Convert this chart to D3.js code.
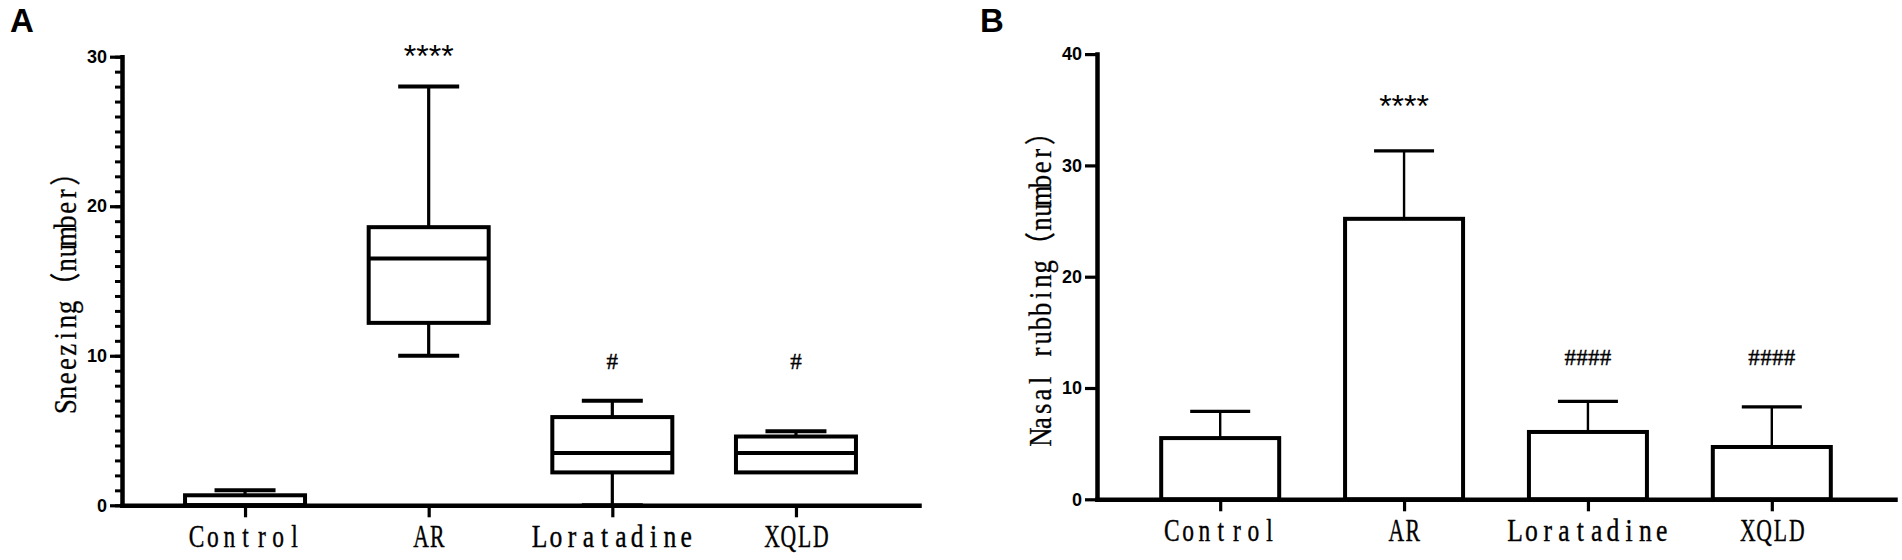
<!DOCTYPE html>
<html>
<head>
<meta charset="utf-8">
<script src="https://cdn.jsdelivr.net/npm/d3@7"></script>
<style>
  body { margin: 0; background: #fff; }
  svg { display: block; }
</style>
</head>
<body>
<svg id="chart" width="1902" height="560"></svg>
<script>
/*** Data ***/
var groups = ["Control", "AR", "Loratadine", "XQLD"];

// Panel A: sneezing, box & whisker (min..max)
var sneezeMin    = [0, 10, 0, 2.2];
var sneezeQ1     = [0, 12.2, 2.2, 2.2];
var sneezeMedian = [0, 16.5, 3.5, 3.5];
var sneezeQ3     = [0.67, 18.6, 5.9, 4.6];
var sneezeMax    = [1, 28, 7, 4.95];
var sneezeMarks  = ["", "****", "#", "#"];
var sneezeMarkY  = [null, 30.5, 9.6, 9.6];
var sneezeTicks  = [0, 10, 20, 30];

// Panel B: nasal rubbing, mean + SD
var rubMean  = [5.5, 25.2, 6.05, 4.7];
var rubSD    = [2.4, 6.1, 2.75, 3.6];
var rubMarks = ["", "****", "####", "####"];
var rubMarkY = [null, 36, 12.7, 12.7];
var rubTicks = [0, 10, 20, 30, 40];

/*** Helpers ***/
var svg = d3.select("#chart");
var sans = "'Liberation Sans', Arial, sans-serif";
var serif = "'Liberation Serif', 'Noto Sans CJK SC', serif";

// lay the characters out on a fixed grid (half-width = 1 cell, full-width = 2),
// so a serif face reads like the monospaced CJK-font latin of the original
function monoText(text, str, cell, sx) {
  var chars = Array.from(str);
  var w = chars.map(c => c.charCodeAt(0) > 0x2000 ? 2 : 1);
  var pos = -d3.sum(w) / 2;
  text.text(null).attr("text-anchor", "middle");
  chars.forEach((c, k) => {
    text.append("tspan").attr("x", (pos + w[k] / 2) * cell / sx).text(c);
    pos += w[k];
  });
}

// same, but squeeze the glyphs so the widest one still fits its cell
function fitMono(text, str, cell, maxSx) {
  monoText(text, str, cell, 1);
  var widest = d3.max(text.selectAll("tspan").nodes(), n => n.getComputedTextLength());
  var sx = Math.min(maxSx, 0.96 * cell / widest);
  text.attr("transform", "scale(" + sx + ",1)");
  monoText(text, str, cell, sx);
}

function drawAxes(g, x, y, opt) {
  var x0 = opt.xRange[0];

  // minor ticks (panel A only)
  if (opt.minor) {
    g.append("g")
      .attr("transform", "translate(" + x0 + ",0)")
      .call(d3.axisLeft(y).tickValues(d3.range(0, opt.yMax + 1)).tickSize(7).tickSizeOuter(0).tickFormat(""))
      .call(s => s.select(".domain").remove())
      .selectAll("line").attr("stroke", "#000").attr("stroke-width", 3);
  }

  var ya = g.append("g")
    .attr("transform", "translate(" + x0 + ",0)")
    .call(d3.axisLeft(y).tickValues(opt.ticks).tickSize(12).tickPadding(3).tickSizeOuter(0));
  ya.select(".domain").attr("stroke", "#000").attr("stroke-width", 4.5).attr("stroke-linecap", "square");
  ya.selectAll(".tick line").attr("stroke", "#000").attr("stroke-width", 3.2);
  ya.selectAll(".tick text")
    .attr("fill", "#000")
    .attr("font-family", sans)
    .attr("font-weight", "bold")
    .attr("font-size", 18);

  var xa = g.append("g")
    .attr("transform", "translate(0," + y(0) + ")")
    .call(d3.axisBottom(x).tickSize(12).tickSizeOuter(0));
  xa.select(".domain").attr("stroke", "#000").attr("stroke-width", 4.5).attr("stroke-linecap", "square");
  xa.selectAll(".tick line").attr("stroke", "#000").attr("stroke-width", 3.2);
  xa.selectAll(".tick text")
    .attr("fill", "#000")
    .attr("y", 42)
    .attr("dy", null)
    .attr("font-family", serif)
    .attr("font-size", 32)
    .attr("stroke", "#000").attr("stroke-width", 0.4)
    .each(function(d) { fitMono(d3.select(this), d, 16.3, 0.88); });

  // y title
  g.append("text")
    .attr("transform", "translate(" + opt.titleX + "," + opt.titleY + ") rotate(-90) scale(0.86,1)")
    .attr("font-family", serif)
    .attr("font-size", 31)
    .attr("fill", "#000")
    .attr("stroke", "#000").attr("stroke-width", 0.3)
    .call(t => monoText(t, opt.title, 14.2, 0.86));

  // panel letter
  g.append("text")
    .attr("x", opt.letterX).attr("y", 32)
    .attr("font-family", sans)
    .attr("font-weight", "bold")
    .attr("font-size", 33)
    .attr("fill", "#000")
    .text(opt.letter);
}

function drawMarks(g, x, y, marks, markY) {
  g.append("g").selectAll("g")
    .data(groups.filter((d, i) => marks[i]))
    .enter().append("g")
      .attr("transform", d => "translate(" + x(d) + "," + y(markY[groups.indexOf(d)]) + ")")
      .each(function(d) {
        var m = marks[groups.indexOf(d)];
        var t = d3.select(this).append("text").attr("fill", "#000");
        if (m[0] === "*") {
          t.attr("text-anchor", "middle").attr("font-family", sans).attr("font-size", 32)
            .attr("dy", "0.57em").text(m);
        } else {
          t.attr("font-family", serif).attr("font-size", 23).attr("dy", "0.32em")
            .attr("stroke", "#000").attr("stroke-width", 0.4)
            .call(s => monoText(s, m, 11.8, 1));
        }
      });
}

/*** PANEL A: box plot ***/
(function() {
  var opt = {
    xRange: [122, 919], yRange: [505.3, 56.7], yMax: 30, ticks: sneezeTicks, minor: true,
    title: "Sneezing（number）", titleX: 76, titleY: 286,
    letter: "A", letterX: 10
  };
  var g = svg.append("g");
  var x = d3.scalePoint().domain(groups).range(opt.xRange).padding(0.67);
  var y = d3.scaleLinear().domain([0, opt.yMax]).range(opt.yRange);
  var boxW = 120, capW = 61;

  var box = g.append("g").selectAll("g").data(groups).enter().append("g");
  // whiskers
  box.append("line")
    .attr("x1", d => x(d)).attr("x2", d => x(d))
    .attr("y1", (d, i) => y(sneezeQ3[i])).attr("y2", (d, i) => y(sneezeMax[i]))
    .attr("stroke", "#000").attr("stroke-width", 3.2);
  box.append("line")
    .attr("x1", d => x(d)).attr("x2", d => x(d))
    .attr("y1", (d, i) => y(sneezeQ1[i])).attr("y2", (d, i) => y(sneezeMin[i]))
    .attr("stroke", "#000").attr("stroke-width", 3.2);
  // caps
  box.append("line")
    .attr("x1", d => x(d) - capW / 2).attr("x2", d => x(d) + capW / 2)
    .attr("y1", (d, i) => y(sneezeMax[i])).attr("y2", (d, i) => y(sneezeMax[i]))
    .attr("stroke", "#000").attr("stroke-width", 4);
  box.filter((d, i) => sneezeMin[i] < sneezeQ1[i]).append("line")
    .attr("x1", d => x(d) - capW / 2).attr("x2", d => x(d) + capW / 2)
    .attr("y1", d => y(sneezeMin[groups.indexOf(d)])).attr("y2", d => y(sneezeMin[groups.indexOf(d)]))
    .attr("stroke", "#000").attr("stroke-width", 4);
  // box
  box.append("rect")
    .attr("x", d => x(d) - boxW / 2).attr("width", boxW)
    .attr("y", (d, i) => y(sneezeQ3[i]))
    .attr("height", (d, i) => y(sneezeQ1[i]) - y(sneezeQ3[i]))
    .attr("fill", "#fff").attr("stroke", "#000").attr("stroke-width", 4);
  // median
  box.append("line")
    .attr("x1", d => x(d) - boxW / 2).attr("x2", d => x(d) + boxW / 2)
    .attr("y1", (d, i) => y(sneezeMedian[i])).attr("y2", (d, i) => y(sneezeMedian[i]))
    .attr("stroke", "#000").attr("stroke-width", 4);

  drawAxes(g, x, y, opt);
  drawMarks(g, x, y, sneezeMarks, sneezeMarkY);
})();

/*** PANEL B: bar chart with SD ***/
(function() {
  var opt = {
    xRange: [1097, 1895], yRange: [499.3, 54.1], yMax: 40, ticks: rubTicks, minor: false,
    title: "Nasal rubbing（number）", titleX: 1051, titleY: 281,
    letter: "B", letterX: 980
  };
  var g = svg.append("g");
  var x = d3.scalePoint().domain(groups).range(opt.xRange).padding(0.67);
  var y = d3.scaleLinear().domain([0, opt.yMax]).range(opt.yRange);
  var barW = 118, capW = 60;

  var bar = g.append("g").selectAll("g").data(groups).enter().append("g");
  bar.append("line")
    .attr("x1", d => x(d)).attr("x2", d => x(d))
    .attr("y1", (d, i) => y(rubMean[i])).attr("y2", (d, i) => y(rubMean[i] + rubSD[i]))
    .attr("stroke", "#000").attr("stroke-width", 2.4);
  bar.append("line")
    .attr("x1", d => x(d) - capW / 2).attr("x2", d => x(d) + capW / 2)
    .attr("y1", (d, i) => y(rubMean[i] + rubSD[i])).attr("y2", (d, i) => y(rubMean[i] + rubSD[i]))
    .attr("stroke", "#000").attr("stroke-width", 3.2);
  bar.append("rect")
    .attr("x", d => x(d) - barW / 2).attr("width", barW)
    .attr("y", (d, i) => y(rubMean[i]))
    .attr("height", (d, i) => y(0) - y(rubMean[i]))
    .attr("fill", "#fff").attr("stroke", "#000").attr("stroke-width", 4);

  drawAxes(g, x, y, opt);
  drawMarks(g, x, y, rubMarks, rubMarkY);
})();
</script>
</body>
</html>
